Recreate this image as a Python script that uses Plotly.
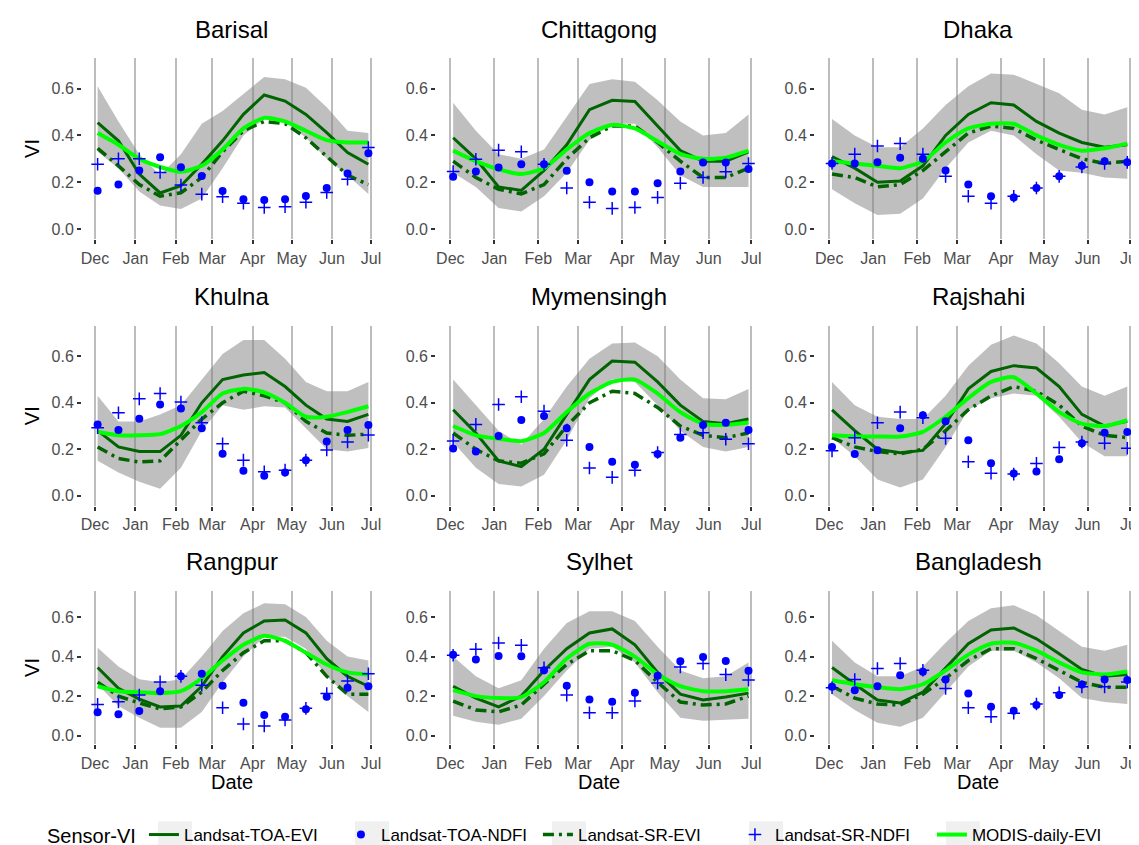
import plotly.graph_objects as go

W, H = 1139, 845

regions = ["Barisal", "Chittagong", "Dhaka", "Khulna", "Mymensingh", "Rajshahi",
           "Rangpur", "Sylhet", "Bangladesh"]

dates = ["2016-12-03", "2016-12-19", "2017-01-04", "2017-01-20", "2017-02-05",
         "2017-02-21", "2017-03-09", "2017-03-25", "2017-04-10", "2017-04-26",
         "2017-05-12", "2017-05-28", "2017-06-13", "2017-06-29"]

month_ticks = ["2016-12-01", "2017-01-01", "2017-02-01", "2017-03-01", "2017-04-01",
               "2017-05-01", "2017-06-01", "2017-07-01"]
month_labels = ["Dec", "Jan", "Feb", "Mar", "Apr", "May", "Jun", "Jul"]
y_ticks = [0.0, 0.2, 0.4, 0.6]

toa_evi = {
    "Barisal":    [0.455, 0.377, 0.235, 0.154, 0.185, 0.277, 0.377, 0.49, 0.573, 0.547, 0.49, 0.412, 0.327, 0.277],
    "Chittagong": [0.39, 0.30, 0.18, 0.165, 0.25, 0.36, 0.51, 0.55, 0.545, 0.44, 0.335, 0.29, 0.29, 0.33],
    "Dhaka":      [0.31, 0.26, 0.20, 0.205, 0.27, 0.40, 0.49, 0.54, 0.53, 0.46, 0.41, 0.37, 0.35, 0.36],
    "Khulna":     [0.28, 0.21, 0.19, 0.19, 0.26, 0.40, 0.50, 0.52, 0.53, 0.47, 0.39, 0.33, 0.32, 0.35],
    "Mymensingh": [0.37, 0.27, 0.15, 0.125, 0.20, 0.35, 0.50, 0.58, 0.575, 0.49, 0.39, 0.32, 0.31, 0.33],
    "Rajshahi":   [0.37, 0.28, 0.20, 0.185, 0.195, 0.31, 0.46, 0.535, 0.56, 0.55, 0.47, 0.35, 0.30, 0.32],
    "Rangpur":    [0.345, 0.24, 0.185, 0.145, 0.15, 0.25, 0.40, 0.52, 0.58, 0.585, 0.52, 0.39, 0.30, 0.25],
    "Sylhet":     [0.25, 0.19, 0.145, 0.20, 0.33, 0.44, 0.52, 0.54, 0.46, 0.32, 0.21, 0.18, 0.195, 0.215],
    "Bangladesh": [0.345, 0.26, 0.18, 0.165, 0.22, 0.34, 0.465, 0.535, 0.545, 0.49, 0.415, 0.335, 0.30, 0.31],
}

toa_evi_upper = {
    "Barisal":    [0.61, 0.46, 0.32, 0.23, 0.32, 0.45, 0.505, 0.576, 0.65, 0.64, 0.604, 0.52, 0.42, 0.41],
    "Chittagong": [0.54, 0.42, 0.32, 0.30, 0.34, 0.48, 0.62, 0.64, 0.63, 0.55, 0.46, 0.40, 0.41, 0.49],
    "Dhaka":      [0.47, 0.40, 0.35, 0.35, 0.43, 0.53, 0.61, 0.665, 0.66, 0.62, 0.58, 0.51, 0.49, 0.52],
    "Khulna":     [0.43, 0.32, 0.32, 0.35, 0.39, 0.50, 0.61, 0.67, 0.67, 0.59, 0.49, 0.45, 0.45, 0.49],
    "Mymensingh": [0.50, 0.39, 0.28, 0.22, 0.33, 0.47, 0.59, 0.655, 0.66, 0.60, 0.50, 0.42, 0.415, 0.46],
    "Rajshahi":   [0.49, 0.39, 0.34, 0.33, 0.33, 0.43, 0.56, 0.65, 0.69, 0.655, 0.57, 0.47, 0.43, 0.47],
    "Rangpur":    [0.445, 0.35, 0.285, 0.27, 0.285, 0.40, 0.53, 0.62, 0.67, 0.665, 0.60, 0.48, 0.40, 0.38],
    "Sylhet":     [0.40, 0.30, 0.24, 0.28, 0.44, 0.57, 0.63, 0.63, 0.58, 0.45, 0.33, 0.29, 0.30, 0.37],
    "Bangladesh": [0.48, 0.37, 0.30, 0.30, 0.35, 0.47, 0.58, 0.645, 0.66, 0.61, 0.53, 0.45, 0.43, 0.46],
}

toa_evi_lower = {
    "Barisal":    [0.33, 0.26, 0.16, 0.10, 0.085, 0.13, 0.26, 0.40, 0.47, 0.46, 0.39, 0.30, 0.23, 0.15],
    "Chittagong": [0.24, 0.18, 0.09, 0.075, 0.14, 0.24, 0.38, 0.45, 0.45, 0.35, 0.23, 0.18, 0.18, 0.18],
    "Dhaka":      [0.17, 0.11, 0.06, 0.065, 0.13, 0.26, 0.37, 0.42, 0.40, 0.32, 0.25, 0.24, 0.22, 0.215],
    "Khulna":     [0.15, 0.10, 0.06, 0.03, 0.12, 0.28, 0.39, 0.37, 0.385, 0.38, 0.29, 0.20, 0.19, 0.205],
    "Mymensingh": [0.23, 0.12, 0.05, 0.04, 0.09, 0.24, 0.42, 0.50, 0.49, 0.39, 0.28, 0.21, 0.19, 0.21],
    "Rajshahi":   [0.25, 0.17, 0.07, 0.035, 0.07, 0.21, 0.37, 0.42, 0.44, 0.43, 0.34, 0.23, 0.17, 0.17],
    "Rangpur":    [0.26, 0.15, 0.09, 0.04, 0.04, 0.12, 0.27, 0.40, 0.50, 0.50, 0.44, 0.30, 0.20, 0.12],
    "Sylhet":     [0.10, 0.07, 0.055, 0.085, 0.20, 0.33, 0.44, 0.45, 0.37, 0.22, 0.09, 0.075, 0.08, 0.085],
    "Bangladesh": [0.21, 0.13, 0.065, 0.045, 0.09, 0.22, 0.35, 0.43, 0.43, 0.37, 0.29, 0.19, 0.17, 0.16],
}

toa_ndfi = {
    "Barisal":    [0.163, 0.19, 0.25, 0.307, 0.264, 0.227, 0.162, 0.127, 0.124, 0.127, 0.141, 0.175, 0.237, 0.324],
    "Chittagong": [0.223, 0.246, 0.263, 0.277, 0.277, 0.249, 0.20, 0.16, 0.16, 0.196, 0.246, 0.284, 0.284, 0.256],
    "Dhaka":      [0.28, 0.28, 0.285, 0.305, 0.30, 0.25, 0.19, 0.14, 0.135, 0.175, 0.225, 0.27, 0.29, 0.285],
    "Khulna":     [0.307, 0.283, 0.331, 0.393, 0.376, 0.29, 0.181, 0.107, 0.086, 0.10, 0.153, 0.233, 0.283, 0.304],
    "Mymensingh": [0.203, 0.19, 0.257, 0.326, 0.343, 0.29, 0.21, 0.146, 0.133, 0.179, 0.25, 0.304, 0.314, 0.283],
    "Rajshahi":   [0.21, 0.179, 0.196, 0.29, 0.346, 0.321, 0.239, 0.14, 0.096, 0.104, 0.157, 0.226, 0.271, 0.274],
    "Rangpur":    [0.118, 0.108, 0.124, 0.225, 0.30, 0.313, 0.252, 0.166, 0.104, 0.096, 0.134, 0.197, 0.242, 0.25],
    "Sylhet":     [0.41, 0.385, 0.403, 0.402, 0.331, 0.252, 0.183, 0.171, 0.217, 0.303, 0.376, 0.398, 0.378, 0.328],
    "Bangladesh": [0.247, 0.23, 0.25, 0.306, 0.323, 0.284, 0.213, 0.146, 0.126, 0.155, 0.205, 0.259, 0.284, 0.281],
}

sr_evi = {
    "Barisal":    [0.345, 0.27, 0.19, 0.14, 0.155, 0.22, 0.33, 0.42, 0.46, 0.45, 0.39, 0.31, 0.23, 0.19],
    "Chittagong": [0.29, 0.22, 0.17, 0.15, 0.19, 0.30, 0.39, 0.44, 0.44, 0.37, 0.29, 0.22, 0.22, 0.26],
    "Dhaka":      [0.235, 0.22, 0.18, 0.19, 0.25, 0.33, 0.41, 0.44, 0.43, 0.38, 0.34, 0.30, 0.28, 0.29],
    "Khulna":     [0.21, 0.16, 0.145, 0.15, 0.24, 0.33, 0.40, 0.45, 0.43, 0.40, 0.32, 0.27, 0.26, 0.265],
    "Mymensingh": [0.27, 0.20, 0.15, 0.14, 0.18, 0.30, 0.40, 0.45, 0.44, 0.38, 0.30, 0.26, 0.25, 0.27],
    "Rajshahi":   [0.25, 0.21, 0.19, 0.18, 0.20, 0.28, 0.37, 0.43, 0.47, 0.45, 0.39, 0.30, 0.26, 0.25],
    "Rangpur":    [0.27, 0.20, 0.165, 0.135, 0.145, 0.22, 0.33, 0.42, 0.48, 0.48, 0.42, 0.30, 0.21, 0.21],
    "Sylhet":     [0.175, 0.13, 0.12, 0.155, 0.26, 0.36, 0.43, 0.43, 0.38, 0.27, 0.17, 0.155, 0.16, 0.20],
    "Bangladesh": [0.25, 0.19, 0.16, 0.155, 0.21, 0.29, 0.38, 0.44, 0.44, 0.39, 0.33, 0.27, 0.245, 0.245],
}

sr_ndfi = {
    "Barisal":    [0.277, 0.30, 0.30, 0.242, 0.188, 0.149, 0.138, 0.11, 0.092, 0.095, 0.114, 0.156, 0.213, 0.348],
    "Chittagong": [0.246, 0.298, 0.337, 0.33, 0.277, 0.175, 0.114, 0.088, 0.092, 0.135, 0.196, 0.22, 0.245, 0.28],
    "Dhaka":      [0.28, 0.32, 0.355, 0.365, 0.32, 0.225, 0.14, 0.11, 0.14, 0.175, 0.225, 0.265, 0.28, 0.285],
    "Khulna":     [0.293, 0.357, 0.417, 0.44, 0.403, 0.314, 0.224, 0.153, 0.103, 0.11, 0.153, 0.197, 0.231, 0.261],
    "Mymensingh": [0.236, 0.307, 0.393, 0.426, 0.364, 0.239, 0.119, 0.079, 0.11, 0.186, 0.264, 0.271, 0.243, 0.224],
    "Rajshahi":   [0.193, 0.25, 0.314, 0.36, 0.336, 0.247, 0.146, 0.097, 0.093, 0.139, 0.207, 0.231, 0.226, 0.204],
    "Rangpur":    [0.158, 0.171, 0.205, 0.272, 0.30, 0.255, 0.141, 0.059, 0.049, 0.079, 0.138, 0.213, 0.276, 0.313],
    "Sylhet":     [0.407, 0.437, 0.469, 0.457, 0.343, 0.205, 0.116, 0.116, 0.175, 0.267, 0.348, 0.365, 0.309, 0.281],
    "Bangladesh": [0.242, 0.284, 0.34, 0.365, 0.331, 0.239, 0.141, 0.096, 0.113, 0.16, 0.217, 0.247, 0.247, 0.272],
}

modis_evi = {
    "Barisal":    [0.41, 0.36, 0.30, 0.265, 0.245, 0.27, 0.34, 0.43, 0.475, 0.46, 0.42, 0.38, 0.37, 0.37],
    "Chittagong": [0.335, 0.29, 0.255, 0.235, 0.26, 0.34, 0.41, 0.445, 0.43, 0.375, 0.32, 0.30, 0.305, 0.335],
    "Dhaka":      [0.29, 0.28, 0.27, 0.26, 0.29, 0.37, 0.43, 0.45, 0.45, 0.40, 0.36, 0.335, 0.345, 0.365],
    "Khulna":     [0.275, 0.26, 0.26, 0.265, 0.30, 0.36, 0.44, 0.46, 0.445, 0.40, 0.34, 0.34, 0.36, 0.385],
    "Mymensingh": [0.30, 0.26, 0.245, 0.235, 0.27, 0.36, 0.44, 0.49, 0.50, 0.44, 0.36, 0.31, 0.305, 0.315],
    "Rajshahi":   [0.26, 0.255, 0.255, 0.255, 0.275, 0.34, 0.42, 0.49, 0.51, 0.44, 0.36, 0.31, 0.30, 0.325],
    "Rangpur":    [0.25, 0.225, 0.22, 0.215, 0.225, 0.29, 0.38, 0.46, 0.505, 0.48, 0.42, 0.36, 0.32, 0.31],
    "Sylhet":     [0.23, 0.20, 0.19, 0.195, 0.27, 0.39, 0.465, 0.46, 0.40, 0.31, 0.25, 0.225, 0.225, 0.235],
    "Bangladesh": [0.28, 0.26, 0.245, 0.235, 0.26, 0.33, 0.41, 0.465, 0.47, 0.43, 0.37, 0.32, 0.31, 0.325],
}

# ---- layout geometry (pixels) ----
col_px = [(74, 373.4), (428.1, 754.7), (807, 1133.5)]
row_px = [(50.5, 232.6), (319.7, 500.5), (586.2, 740.0)]
title_y_px = [22, 290, 556]
x_range = ["2016-11-21", "2017-07-09"]
y_range = [-0.045, 0.73]
legend_text_start_px = 188
legend_pitch_px = 197

DARK = "#006400"
BRIGHT = "#00ff00"
BLUE = "#0000ff"
FONT = "Liberation Sans, Arial, sans-serif"

fig = go.Figure()
annotations = []
layout_axes = {}

for i, reg in enumerate(regions):
    r, c = divmod(i, 3)
    n = i + 1
    xa = "x" if n == 1 else f"x{n}"
    ya = "y" if n == 1 else f"y{n}"
    first = (i == 0)

    fig.add_trace(go.Scatter(x=dates, y=toa_evi_upper[reg], mode="lines",
                             line=dict(width=0), hoverinfo="skip",
                             showlegend=False, xaxis=xa, yaxis=ya))
    fig.add_trace(go.Scatter(x=dates, y=toa_evi_lower[reg], mode="lines",
                             line=dict(width=0), fill="tonexty",
                             fillcolor="rgba(127,127,127,0.5)", hoverinfo="skip",
                             showlegend=False, xaxis=xa, yaxis=ya))
    fig.add_trace(go.Scatter(x=dates, y=toa_evi[reg], mode="lines", name="Landsat-TOA-EVI",
                             line=dict(color=DARK, width=3), legendgroup="a",
                             showlegend=first, xaxis=xa, yaxis=ya, legendrank=1))
    fig.add_trace(go.Scatter(x=dates, y=sr_evi[reg], mode="lines", name="Landsat-SR-EVI",
                             line=dict(color=DARK, width=3.5, dash="11px,5px,3px,5px"),
                             legendgroup="c", showlegend=first, xaxis=xa, yaxis=ya,
                             legendrank=3))
    fig.add_trace(go.Scatter(x=dates, y=modis_evi[reg], mode="lines", name="MODIS-daily-EVI",
                             line=dict(color=BRIGHT, width=4, shape="spline", smoothing=0.6),
                             legendgroup="e", showlegend=first, xaxis=xa, yaxis=ya,
                             legendrank=5))
    fig.add_trace(go.Scatter(x=dates, y=toa_ndfi[reg], mode="markers", name="Landsat-TOA-NDFI",
                             marker=dict(color=BLUE, size=8, symbol="circle"),
                             legendgroup="b", showlegend=first, xaxis=xa, yaxis=ya,
                             legendrank=2))
    fig.add_trace(go.Scatter(x=dates, y=sr_ndfi[reg], mode="markers", name="Landsat-SR-NDFI",
                             marker=dict(color=BLUE, size=9, symbol="cross-thin-open",
                                         line=dict(color=BLUE, width=1.5)),
                             legendgroup="d", showlegend=first, xaxis=xa, yaxis=ya,
                             legendrank=4))

    x0, x1 = col_px[c]
    top, bot = row_px[r]
    layout_axes["xaxis" if n == 1 else f"xaxis{n}"] = dict(
        domain=[x0 / W, x1 / W], anchor=ya, type="date", range=x_range,
        tickvals=month_ticks, ticktext=month_labels, showgrid=True,
        gridcolor="#bdbdbd", gridwidth=2, zeroline=False, showline=False,
        ticks="outside", ticklen=4, tickcolor="#333333", tickwidth=1.5,
        tickfont=dict(size=16, color="#4d4d4d", family=FONT), fixedrange=True)
    layout_axes["yaxis" if n == 1 else f"yaxis{n}"] = dict(
        domain=[1 - bot / H, 1 - top / H], anchor=xa, range=y_range,
        tickvals=y_ticks, tickformat=".1f", showgrid=False, zeroline=False,
        showline=False, ticks="outside", ticklen=4, tickcolor="#333333", tickwidth=1.5,
        tickfont=dict(size=16, color="#4d4d4d", family=FONT), fixedrange=True)

    annotations.append(dict(text=reg, xref="paper", yref="paper",
                            x=(x0 + x1) / 2 / W, y=1 - title_y_px[r] / H,
                            xanchor="center", yanchor="middle", showarrow=False,
                            font=dict(size=24, color="black", family=FONT)))
    if c == 0:
        annotations.append(dict(text="VI", xref="paper", yref="paper",
                                x=24 / W, y=1 - (top + bot) / 2 / H, textangle=-90,
                                xanchor="center", yanchor="middle", showarrow=False,
                                font=dict(size=20, color="black", family=FONT)))
    if r == 2:
        annotations.append(dict(text="Date", xref="paper", yref="paper",
                                x=(x0 + x1) / 2 / W, y=1 - 778 / H,
                                xanchor="center", yanchor="middle", showarrow=False,
                                font=dict(size=20, color="black", family=FONT)))

# light grey legend key backgrounds (as in ggplot)
shapes = []
for k in range(5):
    t = legend_text_start_px + legend_pitch_px * k
    shapes.append(dict(type="rect", xref="paper", yref="paper", layer="below",
                       x0=(t - 38) / W, x1=(t - 4) / W,
                       y0=1 - 845 / H, y1=1 - 817 / H,
                       fillcolor="#f0f0f0", line=dict(width=0)))

fig.update_layout(
    width=W, height=H, margin=dict(l=0, r=0, t=0, b=0),
    paper_bgcolor="white", plot_bgcolor="white",
    font=dict(family=FONT, color="black"),
    annotations=annotations, shapes=shapes,
    legend=dict(orientation="h", x=37 / W, y=1 - 831 / H, xanchor="left", yanchor="middle",
                title=dict(text="Sensor-VI", font=dict(size=20), side="left"),
                font=dict(size=17), entrywidth=152, entrywidthmode="pixels",
                bgcolor="rgba(0,0,0,0)", traceorder="normal"),
    **layout_axes,
)

fig.write_html("out.html")
